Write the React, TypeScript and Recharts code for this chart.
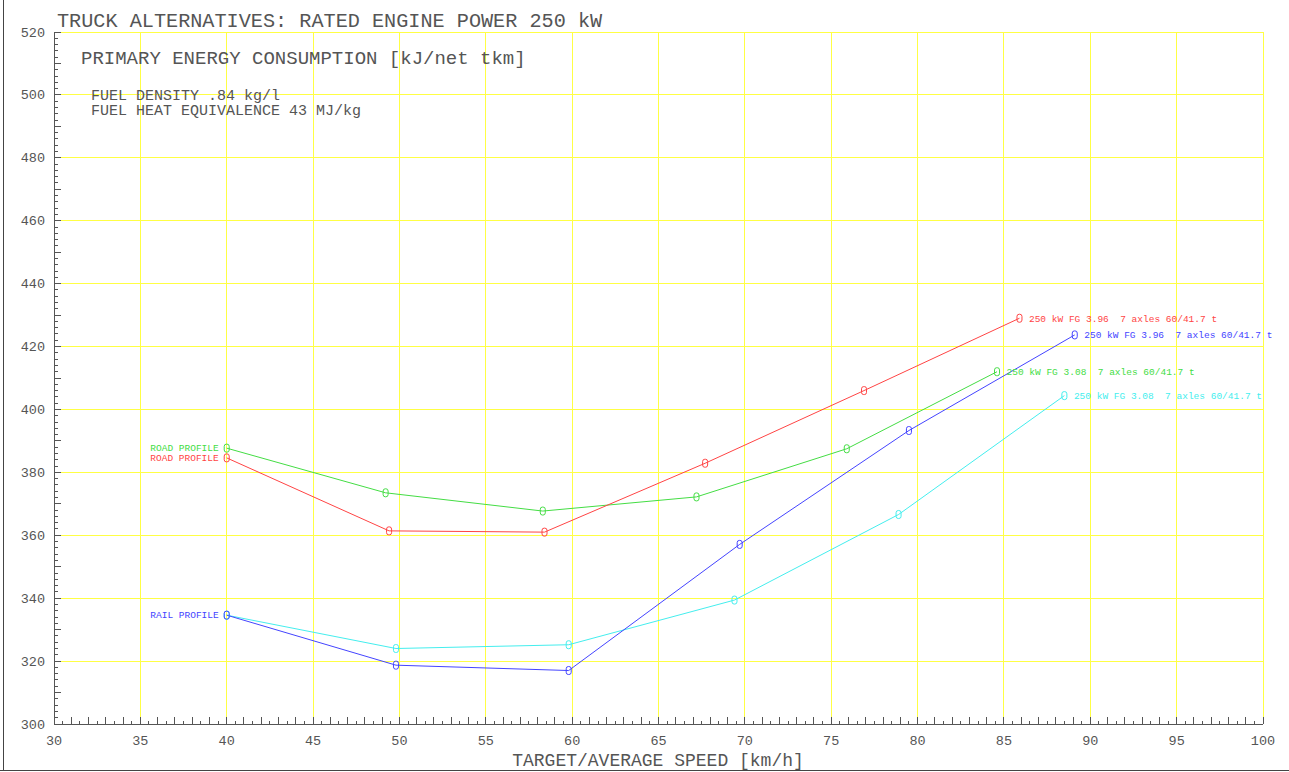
import React from 'react';
import { LineChart, Line, XAxis, YAxis, ReferenceLine } from 'recharts';

// ---- data ----
const redX = [40, 49.4, 58.4, 67.7, 76.9, 85.9];
const redY = [384.6, 361.4, 361.0, 382.9, 406.0, 429.0];
const greenX = [40, 49.2, 58.3, 67.2, 75.9, 84.6];
const greenY = [387.7, 373.5, 367.7, 372.2, 387.5, 412.0];
const blueX = [40, 49.8, 59.8, 69.7, 79.5, 89.1];
const blueY = [334.6, 318.7, 317.0, 357.1, 393.3, 423.7];
const cyanX = [40, 49.8, 59.8, 69.4, 78.9, 88.5];
const cyanY = [334.6, 324.0, 325.2, 339.4, 366.6, 404.4];

const seriesNames = ['red', 'green', 'blue', 'cyan'];
const startLabels = ['ROAD PROFILE', 'ROAD PROFILE', 'RAIL PROFILE', ''];
const endLabels = [
  '250 kW FG 3.96  7 axles 60/41.7 t',
  '250 kW FG 3.08  7 axles 60/41.7 t',
  '250 kW FG 3.96  7 axles 60/41.7 t',
  '250 kW FG 3.08  7 axles 60/41.7 t',
];

const xGridValues = [35, 40, 45, 50, 55, 60, 65, 70, 75, 80, 85, 90, 95, 100];
const yGridValues = [320, 340, 360, 380, 400, 420, 440, 460, 480, 500, 520];

const TITLE = 'TRUCK ALTERNATIVES: RATED ENGINE POWER 250 kW';
const SUBTITLE = 'PRIMARY ENERGY CONSUMPTION [kJ/net tkm]';
const NOTE1 = 'FUEL DENSITY .84 kg/l';
const NOTE2 = 'FUEL HEAT EQUIVALENCE 43 MJ/kg';
const XLABEL = 'TARGET/AVERAGE SPEED [km/h]';

// ---- styles ----
const COLORS = ['#ff4444', '#44dd44', '#4444ff', '#44eeee'];
const GRID = '#ffff44';
const AXIS = '#555555';
const TEXT = '#555555';
const FONT = '"Liberation Mono", "DejaVu Sans Mono", monospace';

const xTicks: number[] = [];
for (let i = 0; i <= 140; i++) xTicks.push(30 + i * 0.5);
const yTicks: number[] = [];
for (let i = 0; i <= 110; i++) yTicks.push(300 + i * 2);

const toData = (xs: number[], ys: number[]) => xs.map((x, i) => ({ x, y: ys[i] }));
const seriesData = [
  toData(redX, redY),
  toData(greenX, greenY),
  toData(blueX, blueY),
  toData(cyanX, cyanY),
];

const XTick = (props: any) => {
  const { x, y, payload } = props;
  const v = payload.value as number;
  const isInt = Math.abs(v - Math.round(v)) < 1e-6;
  const len = isInt ? 7 : 3;
  const major = isInt && Math.round(v) % 5 === 0;
  return (
    <g>
      {v > 30 && (
        <line x1={x} x2={x} y1={y} y2={y - len} stroke={AXIS} strokeWidth={1} shapeRendering="crispEdges" />
      )}
      {major && (
        <text x={x} y={y + 20.5} textAnchor="middle" fontFamily={FONT} fontSize={13.5} fill={TEXT}>
          {v}
        </text>
      )}
    </g>
  );
};

const YTick = (props: any) => {
  const { x, y, payload } = props;
  const v = payload.value as number;
  const len = v % 10 === 0 ? 7 : 4;
  const major = v % 20 === 0;
  return (
    <g>
      {v > 300 && (
        <line x1={x} x2={x + len} y1={y} y2={y} stroke={AXIS} strokeWidth={1} shapeRendering="crispEdges" />
      )}
      {major && (
        <text x={x - 9} y={y + 4.5} textAnchor="end" fontFamily={FONT} fontSize={13.5} fill={TEXT}>
          {v}
        </text>
      )}
    </g>
  );
};

const makeDot = (si: number) => (props: any) => {
  const { cx, cy, index } = props;
  const color = COLORS[si];
  const last = seriesData[si].length - 1;
  return (
    <g key={`dot-${si}-${index}`}>
      <rect x={cx - 2.5} y={cy - 4} width={5} height={8} rx={2.2} fill="none" stroke={color} strokeWidth={1} />
      {index === 0 && startLabels[si] && (
        <text x={cx - 8} y={cy + 3.3} textAnchor="end" fontFamily={FONT} fontSize={9.5} fill={color} style={{ whiteSpace: 'pre' }}>
          {startLabels[si]}
        </text>
      )}
      {index === last && (
        <text x={cx + 9.5} y={cy + 3.3} textAnchor="start" fontFamily={FONT} fontSize={9.5} fill={color} style={{ whiteSpace: 'pre' }}>
          {endLabels[si]}
        </text>
      )}
    </g>
  );
};

export default function App() {
  return (
    <div style={{ position: 'absolute', left: 0, top: 0, width: 1289, height: 772, background: '#fff' }}>
      <LineChart width={1289} height={772} margin={{ top: 32, right: 26, bottom: 0, left: 0 }}>
        {xGridValues.map((v) => (
          <ReferenceLine key={`gx${v}`} x={v} stroke={GRID} strokeWidth={1} shapeRendering="crispEdges" />
        ))}
        {yGridValues.map((v) => (
          <ReferenceLine key={`gy${v}`} y={v} stroke={GRID} strokeWidth={1} shapeRendering="crispEdges" />
        ))}
        <XAxis
          dataKey="x"
          type="number"
          domain={[30, 100]}
          ticks={xTicks}
          interval={0}
          tick={XTick}
          tickLine={false}
          tickSize={0}
          tickMargin={0}
          axisLine={{ stroke: AXIS, shapeRendering: 'crispEdges' }}
          height={48}
        />
        <YAxis
          type="number"
          domain={[300, 520]}
          ticks={yTicks}
          interval={0}
          tick={YTick}
          tickLine={false}
          tickSize={0}
          tickMargin={0}
          axisLine={{ stroke: AXIS, shapeRendering: 'crispEdges' }}
          width={54}
        />
        {[3, 2, 1, 0].map((si) => (
          <Line
            key={seriesNames[si]}
            name={seriesNames[si]}
            data={seriesData[si]}
            dataKey="y"
            type="linear"
            stroke={COLORS[si]}
            strokeWidth={1}
            dot={makeDot(si)}
            activeDot={false}
            isAnimationActive={false}
          />
        ))}
      </LineChart>
      <svg width={1289} height={772} style={{ position: 'absolute', left: 0, top: 0, pointerEvents: 'none' }}>
        <line x1={3.5} x2={3.5} y1={0} y2={771} stroke="#444" strokeWidth={1} />
        <line x1={0} x2={1289} y1={770.5} y2={770.5} stroke="#444" strokeWidth={1} />
        <text x={57} y={27} fontFamily={FONT} fontSize={20.2} fill={TEXT}>{TITLE}</text>
        <text x={81} y={63.5} fontFamily={FONT} fontSize={19} fill={TEXT}>{SUBTITLE}</text>
        <text x={91} y={99.5} fontFamily={FONT} fontSize={15} fill={TEXT}>{NOTE1}</text>
        <text x={91} y={115} fontFamily={FONT} fontSize={15} fill={TEXT}>{NOTE2}</text>
        <text x={658} y={766} textAnchor="middle" fontFamily={FONT} fontSize={18} fill={TEXT}>{XLABEL}</text>
      </svg>
    </div>
  );
}
